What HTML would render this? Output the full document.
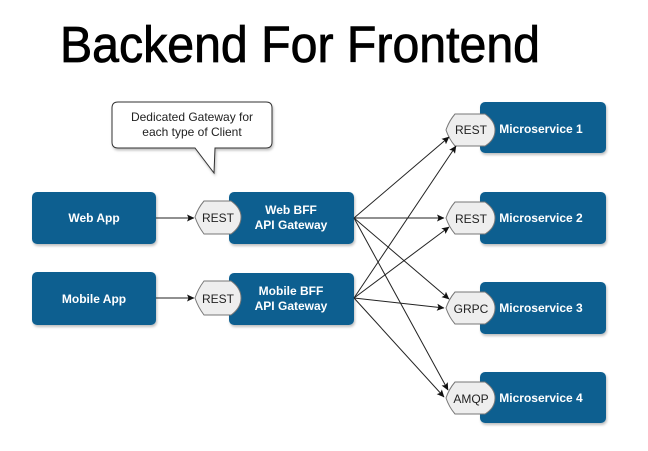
<!DOCTYPE html>
<html><head><meta charset="utf-8"><style>
html,body{margin:0;padding:0;background:#fff;}
svg{display:block;font-family:"Liberation Sans",Helvetica,Arial,sans-serif;}
.box{fill:#0f5f90;}
.bt{fill:#fff;font-weight:bold;font-size:12px;text-anchor:middle;}
.hex{fill:#eeeeee;stroke:#777;stroke-width:1;}
.ht{fill:#222;font-size:12px;text-anchor:middle;}
.ln{stroke:#222;stroke-width:1;fill:none;marker-end:url(#ar);}
</style></head><body>
<svg width="648" height="451" viewBox="0 0 648 451">
<defs>
<marker id="ar" markerWidth="8" markerHeight="8" refX="7" refY="4" orient="auto" markerUnits="userSpaceOnUse">
<path d="M0,0.5 L7.5,4 L0,7.5 L1.5,4 Z" fill="#111"/>
</marker>
<filter id="sh" x="-10%" y="-10%" width="130%" height="140%"><feDropShadow dx="1" dy="2" stdDeviation="1.2" flood-color="#000" flood-opacity="0.25"/></filter>
</defs>
<text x="300" y="62" font-size="51" text-anchor="middle" textLength="480" lengthAdjust="spacingAndGlyphs" fill="#000" stroke="#000" stroke-width="0.8">Backend For Frontend</text>

<!-- callout -->
<path d="M118,102 H266 Q272,102 272,108 V142 Q272,148 266,148 H215 L214,173 L195,148 H118 Q112,148 112,142 V108 Q112,102 118,102 Z" fill="#fff" stroke="#333" stroke-width="1" filter="url(#sh)"/>
<text x="192" y="121" font-size="12" text-anchor="middle" fill="#222">Dedicated Gateway for</text>
<text x="192" y="136" font-size="12" text-anchor="middle" fill="#222">each type of Client</text>

<!-- clients -->
<rect class="box" x="32" y="192" width="124" height="52" rx="5" filter="url(#sh)"/>
<text class="bt" x="94" y="222">Web App</text>
<rect class="box" x="32" y="272" width="124" height="53" rx="5" filter="url(#sh)"/>
<text class="bt" x="94" y="303">Mobile App</text>

<line class="ln" x1="156" y1="218" x2="194" y2="218"/>
<line class="ln" x1="156" y1="298" x2="194" y2="298"/>

<!-- gateways -->
<rect class="box" x="229" y="192" width="125" height="52" rx="5" filter="url(#sh)"/>
<text class="bt" x="291" y="214">Web BFF</text>
<text class="bt" x="291" y="229">API Gateway</text>
<rect class="box" x="229" y="273" width="125" height="52" rx="5" filter="url(#sh)"/>
<text class="bt" x="291" y="295">Mobile BFF</text>
<text class="bt" x="291" y="310">API Gateway</text>

<path class="hex" d="M204,201 H231 Q241,208 241,217 Q241,227 231,234 H204 Q198,226 195,217 Q198,208 204,201 Z"/>
<text class="ht" x="218" y="222">REST</text>
<path class="hex" d="M204,281 H231 Q241,288 241,298 Q241,308 231,315 H204 Q198,307 195,298 Q198,289 204,281 Z"/>
<text class="ht" x="218" y="303">REST</text>

<!-- microservices -->
<rect class="box" x="480" y="102" width="126" height="51" rx="5" filter="url(#sh)"/>
<rect class="box" x="480" y="192" width="126" height="52" rx="5" filter="url(#sh)"/>
<rect class="box" x="480" y="282" width="126" height="52" rx="5" filter="url(#sh)"/>
<rect class="box" x="480" y="372" width="126" height="51" rx="5" filter="url(#sh)"/>
<text class="bt" x="541" y="133">Microservice 1</text>
<text class="bt" x="541" y="222">Microservice 2</text>
<text class="bt" x="541" y="312">Microservice 3</text>
<text class="bt" x="541" y="402">Microservice 4</text>

<path class="hex" d="M455,114 H485 Q495,121 495,130 Q495,140 485,146 H455 Q449,139 446,130 Q449,121 455,114 Z"/>
<text class="ht" x="471" y="134">REST</text>
<path class="hex" d="M455,202 H485 Q495,209 495,218 Q495,228 485,234 H455 Q449,227 446,218 Q449,209 455,202 Z"/>
<text class="ht" x="471" y="223">REST</text>
<path class="hex" d="M455,292 H485 Q495,299 495,308 Q495,318 485,324 H455 Q449,317 446,308 Q449,299 455,292 Z"/>
<text class="ht" x="471" y="313">GRPC</text>
<path class="hex" d="M455,382 H485 Q495,389 495,398 Q495,408 485,414 H455 Q449,407 446,398 Q449,389 455,382 Z"/>
<text class="ht" x="471" y="403">AMQP</text>

<!-- connectors -->
<line class="ln" x1="354" y1="218" x2="449" y2="137"/>
<line class="ln" x1="354" y1="218" x2="444" y2="218"/>
<line class="ln" x1="354" y1="218" x2="449" y2="299"/>
<line class="ln" x1="354" y1="218" x2="448" y2="390"/>
<line class="ln" x1="354" y1="298" x2="456" y2="146"/>
<line class="ln" x1="354" y1="298" x2="449" y2="227"/>
<line class="ln" x1="354" y1="298" x2="444" y2="308"/>
<line class="ln" x1="354" y1="298" x2="444" y2="397"/>
</svg>
</body></html>
